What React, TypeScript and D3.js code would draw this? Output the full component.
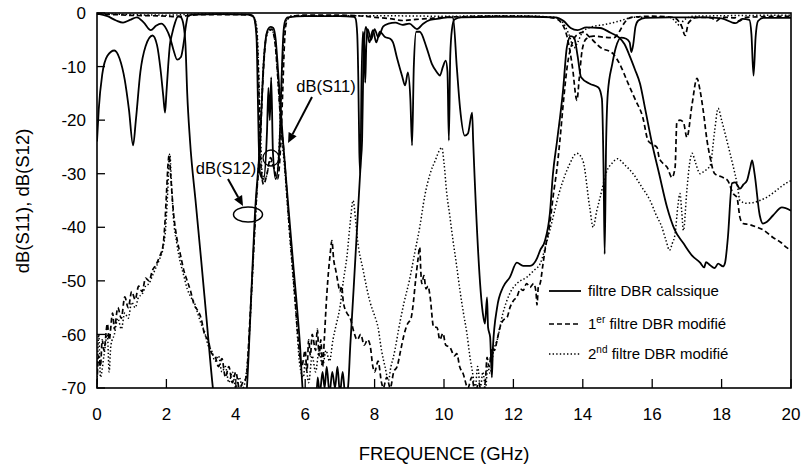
import React from 'react';
import * as d3 from 'd3';

type P = [number, number];

const xTicks = [0, 2, 4, 6, 8, 10, 12, 14, 16, 18, 20];
const yTicks = [0, -10, -20, -30, -40, -50, -60, -70];

const legendLabels = ['filtre DBR calssique', '1|er| filtre DBR modifié', '2|nd| filtre DBR modifié'];

// classic DBR filter, transmission
const s12Classic: P[] = [
  [0,-24],[0.05,-18],[0.15,-11.5],[0.3,-8],[0.5,-7],[0.65,-8.5],[0.8,-12.5],[0.92,-18],[1.04,-24.7],[1.12,-20],[1.25,-11],[1.4,-6.2],[1.6,-4.2],[1.73,-6],[1.83,-10.5],[1.91,-15.5],[1.96,-18.6],[2.0,-15],[2.05,-10],[2.1,-6],[2.16,-4],[2.25,-1.8],[2.34,-0.6],[2.42,-0.8],[2.5,-2.5],[2.55,-6],[2.6,-15],[2.68,-23.8],[2.85,-35.7],[3.0,-46],[3.15,-56.6],[3.34,-70],[3.5,-78],[4.2,-78],[4.32,-70],[4.45,-52],[4.55,-37.6],[4.7,-23.8],[4.78,-12],[4.85,-5.5],[4.93,-3],[5.0,-2.6],[5.08,-2.8],[5.15,-5],[5.22,-11],[5.3,-18.5],[5.36,-23.8],[5.5,-35],[5.65,-46.5],[5.85,-62],[5.95,-72],[6.1,-75],[6.3,-74],[6.36,-68],[6.42,-71],[6.5,-67],[6.56,-70],[6.62,-66],[6.7,-71],[6.78,-67],[6.86,-70],[6.93,-66],[7.0,-71],[7.08,-67],[7.15,-71],[7.23,-70],[7.3,-62],[7.4,-51],[7.5,-39.5],[7.6,-28],[7.64,-23.8],[7.67,-12],[7.7,-5],[7.75,-2.6],[7.85,-5.5],[7.95,-3.2],[8.05,-5.5],[8.15,-3.5],[8.3,-4.5],[8.45,-4.8],[8.53,-5.5],[8.65,-8.5],[8.79,-11.7],[8.88,-13.5],[8.96,-11.1],[9.03,-16],[9.08,-24.7],[9.13,-10],[9.2,-3.5],[9.3,-3.5],[9.5,-6.5],[9.65,-9.5],[9.8,-11.1],[9.88,-11.7],[9.97,-10],[10.05,-8.9],[10.1,-11],[10.14,-23.8],[10.18,-8],[10.23,-3],[10.3,-1.2],[10.5,-0.8],[11.5,-0.7],[12.5,-0.7],[13.2,-0.8],[13.45,-1.5],[13.65,-2.8],[13.85,-3.2],[14.1,-2.7],[14.5,-2.8],[14.8,-3.7],[15.05,-4.6],[15.2,-5.8],[15.35,-8],[15.5,-10.5],[15.65,-13.2],[15.8,-18],[16.0,-24.5],[16.2,-30],[16.43,-36.3],[16.65,-40.5],[16.9,-43],[17.15,-45.3],[17.38,-46.6],[17.5,-47.5],[17.55,-46.5],[17.67,-47.1],[17.8,-47.6],[17.9,-46.8],[18.04,-47.3],[18.1,-46.6],[18.18,-42],[18.3,-31.8],[18.39,-31.6],[18.53,-32.8],[18.63,-32],[18.73,-31.3],[18.82,-29],[18.88,-27.5],[18.95,-30],[19.1,-37.8],[19.19,-39.3],[19.3,-39],[19.48,-37.8],[19.74,-36.3],[20,-36.9]
];

// classic DBR filter, reflection
const s11Classic: P[] = [
  [0,-0.1],[0.3,-0.6],[0.55,-1.4],[0.75,-1.8],[0.95,-1.3],[1.15,-0.8],[1.35,-1.8],[1.55,-3.2],[1.7,-2.4],[1.85,-2],[2.0,-3],[2.1,-4.5],[2.2,-6.8],[2.31,-8.7],[2.42,-8.2],[2.5,-5.5],[2.56,-2.5],[2.62,-0.6],[2.75,-0.3],[3.5,-0.2],[4.4,-0.3],[4.5,-0.6],[4.55,-1.5],[4.6,-5],[4.63,-14],[4.66,-24],[4.7,-30],[4.8,-31],[4.9,-22],[4.94,-14],[4.98,-20],[5.02,-12],[5.07,-26],[5.15,-31],[5.25,-26],[5.32,-12],[5.37,-4],[5.42,-1.5],[5.5,-0.8],[6.0,-0.6],[7.0,-0.6],[7.4,-0.7],[7.45,-1],[7.5,-4],[7.53,-12],[7.56,-26],[7.59,-30],[7.62,-14],[7.66,-3.5],[7.7,-6],[7.73,-13],[7.76,-6],[7.8,-3],[7.9,-5],[8.0,-3],[8.1,-4.5],[8.25,-2.5],[8.4,-2],[8.6,-1.8],[8.8,-2.2],[9.0,-2],[9.22,-3],[9.4,-2],[9.6,-1.3],[9.9,-1],[10.1,-0.8],[10.26,-0.8],[10.37,-10.2],[10.46,-17.6],[10.6,-22.9],[10.69,-22.5],[10.81,-18.6],[10.84,-23.8],[11.12,-56.1],[11.18,-58],[11.24,-53.1],[11.27,-58.7],[11.33,-60.5],[11.38,-68],[11.41,-62.4],[11.53,-55],[11.7,-51.2],[11.9,-49.3],[12.1,-46.6],[12.28,-47.2],[12.48,-47.2],[12.68,-45.8],[12.77,-44.3],[12.91,-42.5],[13.05,-37.5],[13.14,-30],[13.26,-23.8],[13.43,-14.5],[13.54,-6.4],[13.65,-4.3],[13.75,-4.6],[13.85,-8],[13.95,-12],[14.2,-13.2],[14.45,-13.9],[14.55,-16],[14.6,-30],[14.63,-45],[14.67,-25],[14.72,-15],[14.85,-9.5],[14.95,-6.5],[15.1,-4.6],[15.25,-4.8],[15.35,-5.5],[15.4,-7.3],[15.45,-6],[15.52,-2.5],[15.6,-1.4],[15.8,-0.9],[16.5,-0.8],[17.5,-0.8],[18.0,-1],[18.4,-1.9],[18.6,-1.1],[18.8,-1.3],[18.86,-4],[18.92,-11.7],[18.98,-4.5],[19.05,-1.5],[19.2,-0.9],[20,-0.9]
];

// 1st modified DBR filter
const s11Mod1: P[] = [
  [0,-0.2],[0.5,-0.3],[1.0,-0.45],[1.5,-0.5],[2.0,-0.6],[2.3,-0.7],[2.6,-0.5],[3.0,-0.3],[4.0,-0.3],[4.4,-0.4],[4.5,-0.7],[4.56,-1.6],[4.61,-4.5],[4.65,-11],[4.69,-21],[4.73,-29],[4.8,-32],[4.9,-30],[5.0,-27],[5.1,-29],[5.2,-31],[5.29,-25],[5.35,-15],[5.4,-6],[5.45,-2],[5.55,-0.8],[6.0,-0.4],[7.0,-0.4],[7.5,-0.5],[8.0,-0.8],[8.5,-1.1],[8.8,-1.4],[9.2,-1.2],[9.6,-1.0],[10.0,-0.8],[10.5,-0.7],[11.0,-0.6],[12.0,-0.6],[12.8,-0.7],[13.2,-1.0],[13.4,-2],[13.55,-4.5],[13.7,-10],[13.83,-16.3],[13.9,-12],[13.98,-7],[14.1,-4.8],[14.3,-4.3],[14.6,-4.5],[14.9,-4.6],[15.05,-3.5],[15.2,-1.8],[15.4,-0.8],[16.0,-0.6],[16.6,-0.8],[16.85,-2.5],[16.95,-4.2],[17.05,-1.8],[17.3,-0.8],[17.7,-0.9],[17.85,-1.5],[18.0,-0.8],[18.4,-0.9],[18.5,-1.5],[18.7,-0.8],[20,-0.6]
];

const s12Mod1: P[] = [
  [0,-69],[0.05,-64],[0.1,-66],[0.15,-61],[0.2,-63],[0.3,-58],[0.35,-61],[0.45,-56],[0.5,-59],[0.6,-55],[0.7,-57],[0.8,-53],[0.9,-55],[1.0,-52],[1.1,-53.5],[1.2,-51],[1.3,-52],[1.4,-49.5],[1.5,-50],[1.6,-48],[1.7,-47],[1.8,-45.5],[1.9,-43.5],[1.95,-40],[2.0,-34],[2.05,-28],[2.08,-26.5],[2.12,-30],[2.2,-37],[2.3,-42],[2.4,-45],[2.5,-48],[2.6,-50],[2.7,-52],[2.8,-54.5],[2.9,-55.5],[3.0,-57],[3.1,-60],[3.2,-61],[3.3,-63.5],[3.4,-64],[3.5,-66],[3.6,-64.5],[3.7,-68],[3.8,-66],[3.9,-69],[4.0,-67],[4.1,-70],[4.2,-69],[4.3,-68],[4.4,-58],[4.5,-46],[4.6,-34],[4.7,-25],[4.77,-14],[4.84,-6.5],[4.93,-3.2],[5.03,-3],[5.12,-5],[5.2,-11],[5.28,-19],[5.38,-25.5],[5.52,-38],[5.67,-50],[5.8,-61],[5.9,-66],[6.0,-63],[6.05,-67],[6.1,-61],[6.15,-64],[6.2,-60],[6.3,-63],[6.35,-59],[6.4,-64],[6.45,-61],[6.5,-66],[6.55,-61],[6.6,-55],[6.65,-50],[6.72,-45],[6.77,-42.5],[6.82,-46],[6.88,-48],[6.95,-50.5],[7.0,-52],[7.05,-51],[7.1,-54],[7.2,-56],[7.3,-57],[7.4,-59.5],[7.5,-61],[7.6,-60],[7.7,-62],[7.8,-61],[7.87,-62],[7.95,-66],[8.0,-67],[8.1,-65],[8.2,-69],[8.25,-70],[8.35,-68],[8.45,-70],[8.55,-67],[8.65,-66],[8.75,-63],[8.85,-60],[8.95,-58],[9.05,-57],[9.1,-55],[9.18,-50],[9.25,-46],[9.3,-43.7],[9.33,-48],[9.36,-50.5],[9.42,-49],[9.48,-51.5],[9.54,-51],[9.6,-53],[9.7,-58.6],[9.8,-58.7],[9.88,-61],[9.97,-59.8],[10.05,-62],[10.17,-62.4],[10.3,-64],[10.37,-63.6],[10.45,-66],[10.55,-67.3],[10.69,-70],[10.8,-68],[10.9,-71],[11.0,-69],[11.1,-72],[11.2,-68],[11.24,-64.3],[11.3,-66],[11.38,-62.4],[11.45,-63],[11.53,-61.1],[11.6,-59],[11.7,-57.4],[11.82,-56.8],[11.9,-55],[12.0,-53.7],[12.1,-53],[12.2,-51.5],[12.28,-51.8],[12.38,-50.5],[12.48,-51.2],[12.58,-50.5],[12.65,-52],[12.68,-54.5],[12.72,-51],[12.77,-50.5],[12.85,-47],[12.91,-44.3],[13.05,-39.3],[13.15,-34],[13.26,-28.8],[13.34,-23.8],[13.45,-16],[13.55,-10],[13.7,-5.5],[13.85,-4],[14.0,-3.6],[14.2,-4.5],[14.35,-5.5],[14.5,-6.4],[14.87,-7.6],[15.1,-10],[15.27,-12.6],[15.5,-16],[15.73,-19.5],[15.88,-23.8],[16.0,-24.5],[16.14,-25.1],[16.2,-27],[16.3,-28],[16.43,-28.8],[16.57,-30.7],[16.66,-28.8],[16.71,-20.4],[16.8,-20],[16.9,-20.4],[17.0,-23.2],[17.15,-17],[17.29,-12.2],[17.38,-14.5],[17.47,-18.2],[17.58,-23.8],[17.67,-27],[17.8,-30],[18.04,-30.7],[18.18,-31.3],[18.33,-33.7],[18.44,-34.4],[18.53,-38.2],[18.62,-39.3],[18.8,-39.5],[19.02,-40],[19.2,-40.5],[19.48,-41.9],[19.7,-42.8],[19.88,-43.8],[20,-44.3]
];

// 2nd modified DBR filter
const s11Mod2: P[] = [
  [0,-0.1],[1.0,-0.3],[2.0,-0.4],[3.0,-0.2],[4.4,-0.3],[4.5,-0.6],[4.57,-1.5],[4.62,-4],[4.66,-11],[4.71,-22],[4.76,-30],[4.85,-31],[4.95,-28.5],[5.0,-27.5],[5.1,-29],[5.2,-29],[5.27,-22],[5.33,-12],[5.38,-5],[5.45,-1.5],[5.6,-0.5],[8.0,-0.5],[10.0,-0.6],[12.0,-0.5],[13.2,-0.8],[13.45,-2],[13.6,-4],[13.75,-6.5],[13.85,-5.5],[14.0,-3.5],[14.3,-2.5],[14.6,-2.2],[15.0,-1.6],[15.5,-0.8],[16.5,-0.8],[16.7,-1.8],[16.8,-2.4],[16.9,-1.4],[17.2,-0.6],[20,-0.4]
];

const s12Mod2: P[] = [
  [0,-70],[0.05,-60],[0.1,-68],[0.2,-64],[0.3,-60],[0.35,-67],[0.4,-62],[0.5,-60],[0.6,-57],[0.7,-59],[0.8,-56],[0.9,-57],[1.0,-54],[1.1,-55],[1.2,-53],[1.3,-52.5],[1.4,-51],[1.5,-50.5],[1.6,-49],[1.7,-47.5],[1.8,-46],[1.9,-44],[1.98,-40],[2.04,-33],[2.08,-27],[2.1,-26.3],[2.14,-31],[2.2,-38],[2.3,-43],[2.4,-46.5],[2.5,-49],[2.6,-51.5],[2.7,-53],[2.8,-54],[2.9,-56],[3.0,-58],[3.1,-59.5],[3.2,-62],[3.3,-63],[3.4,-65],[3.5,-64],[3.6,-67],[3.7,-66],[3.8,-69],[3.9,-67],[4.0,-70],[4.1,-68],[4.2,-70],[4.35,-64],[4.45,-53],[4.55,-40],[4.65,-29],[4.73,-19],[4.8,-9],[4.88,-4.5],[4.97,-3.2],[5.06,-3.4],[5.14,-6],[5.22,-13],[5.3,-21],[5.42,-30],[5.57,-43],[5.72,-55],[5.85,-66],[5.95,-68],[6.0,-65],[6.1,-69],[6.2,-64],[6.3,-67],[6.4,-63],[6.5,-66],[6.6,-63],[6.7,-65],[6.8,-61],[6.9,-58],[7.0,-55],[7.1,-50],[7.2,-45.6],[7.3,-39],[7.38,-35],[7.45,-38.5],[7.5,-41.9],[7.67,-48],[7.87,-54],[8.0,-56.5],[8.1,-58.7],[8.2,-63],[8.3,-66],[8.4,-68.6],[8.47,-66],[8.54,-64.3],[8.74,-57.4],[8.85,-54],[9.0,-50],[9.15,-45],[9.3,-40],[9.45,-34],[9.6,-30],[9.75,-27.5],[9.88,-25.5],[9.94,-25.1],[10.0,-28],[10.08,-33.7],[10.17,-38],[10.26,-42.5],[10.36,-47],[10.46,-51.8],[10.56,-56],[10.66,-59.8],[10.75,-64.3],[10.82,-67],[10.9,-70],[10.97,-66],[11.05,-70],[11.12,-67],[11.2,-70],[11.26,-66],[11.33,-67.3],[11.43,-63],[11.53,-61.1],[11.7,-56],[11.9,-52.3],[12.1,-50.5],[12.39,-49.3],[12.6,-48],[12.77,-46.8],[12.97,-42.5],[13.14,-38.2],[13.3,-34],[13.43,-31.3],[13.6,-28.5],[13.83,-26.2],[14.0,-27.5],[14.2,-36.3],[14.3,-40],[14.4,-37],[14.5,-34.4],[14.7,-29.4],[14.85,-28],[15.0,-27.2],[15.2,-28.3],[15.45,-30],[15.7,-32.5],[15.94,-35],[16.1,-37.5],[16.28,-40],[16.4,-42.5],[16.5,-44.3],[16.58,-43],[16.66,-41.2],[16.74,-36],[16.8,-33.7],[16.85,-37],[16.9,-40.6],[17.0,-33],[17.08,-28],[17.15,-26.2],[17.25,-28],[17.38,-30],[17.5,-29.5],[17.67,-28.5],[17.8,-22],[17.9,-17.8],[18.0,-20],[18.15,-23.8],[18.33,-28.5],[18.45,-32],[18.53,-35],[18.7,-35.5],[18.9,-35.4],[19.1,-35],[19.3,-34.4],[19.5,-33.5],[19.68,-32.6],[19.85,-31.8],[20,-31.3]
];

const W = 804, H = 468;
const M = { left: 97, right: 791, top: 13, bottom: 388 };
const FONT = '"Liberation Sans", Arial, Helvetica, sans-serif';

const styles = [
  { dash: undefined as string | undefined, width: 1.8 },
  { dash: '5,3', width: 1.7 },
  { dash: '1.4,2.2', width: 1.5 },
];

function Arrow({ x1, y1, x2, y2 }: { x1: number; y1: number; x2: number; y2: number }) {
  const dx = x2 - x1, dy = y2 - y1;
  const L = Math.hypot(dx, dy);
  const ux = dx / L, uy = dy / L;
  const hl = 10, hw = 4.5;
  const bx = x2 - ux * hl, by = y2 - uy * hl;
  const pts = `${x2},${y2} ${bx - uy * hw},${by + ux * hw} ${bx + uy * hw},${by - ux * hw}`;
  return (
    <g>
      <line x1={x1} y1={y1} x2={bx} y2={by} stroke="#000" strokeWidth={2} />
      <polygon points={pts} fill="#000" />
    </g>
  );
}

export default function App() {
  const x = d3.scaleLinear().domain([0, 20]).range([M.left, M.right]);
  const y = d3.scaleLinear().domain([-70, 0]).range([M.bottom, M.top]);
  const line = d3.line<P>().x(d => x(d[0])).y(d => y(d[1])).curve(d3.curveMonotoneX);

  const series: { data: P[]; s: number }[] = [
    { data: s12Mod2, s: 2 },
    { data: s11Mod2, s: 2 },
    { data: s12Mod1, s: 1 },
    { data: s11Mod1, s: 1 },
    { data: s12Classic, s: 0 },
    { data: s11Classic, s: 0 },
  ];

  const legendY = [291, 324, 354];

  return (
    <svg width={W} height={H} style={{ position: 'absolute', left: 0, top: 0, background: '#fff' }} fontFamily={FONT}>
      <defs>
        <clipPath id="plot">
          <rect x={M.left} y={M.top - 1.5} width={M.right - M.left} height={M.bottom - M.top + 1.5} />
        </clipPath>
      </defs>
      <rect width={W} height={H} fill="#fff" />

      <g clipPath="url(#plot)">
        {series.map((se, i) => (
          <path key={i} d={line(se.data) || ''} fill="none" stroke="#000"
            strokeWidth={styles[se.s].width} strokeDasharray={styles[se.s].dash}
            strokeLinejoin="round" />
        ))}
      </g>

      {/* frame */}
      <rect x={M.left} y={M.top} width={M.right - M.left} height={M.bottom - M.top} fill="none" stroke="#000" strokeWidth={1.6} />

      {/* ticks */}
      {xTicks.map(t => (
        <g key={'x' + t}>
          <line x1={x(t)} x2={x(t)} y1={M.bottom} y2={M.bottom - 9} stroke="#000" strokeWidth={1.3} />
          <text x={x(t)} y={420} textAnchor="middle" fontSize={17}>{t}</text>
        </g>
      ))}
      {yTicks.map(t => (
        <g key={'y' + t}>
          <line x1={M.left} x2={M.left + 8} y1={y(t)} y2={y(t)} stroke="#000" strokeWidth={1.3} />
          <text x={86} y={y(t)} dy="0.36em" textAnchor="end" fontSize={17}>{t}</text>
        </g>
      ))}

      <text x={444} y={460} textAnchor="middle" fontSize={18.5}>FREQUENCE (GHz)</text>
      <text transform="translate(29,201) rotate(-90)" textAnchor="middle" fontSize={18.5}>dB(S11), dB(S12)</text>

      {/* annotations */}
      <text x={326} y={92} textAnchor="middle" fontSize={16.5}>dB(S11)</text>
      <Arrow x1={312} y1={97} x2={288} y2={143} />
      <circle cx={271} cy={158} r={8} fill="none" stroke="#000" strokeWidth={1.3} />

      <text x={226} y={174} textAnchor="middle" fontSize={16.5}>dB(S12)</text>
      <Arrow x1={228} y1={179} x2={243} y2={206} />
      <ellipse cx={248} cy={214.5} rx={14.5} ry={7.5} fill="none" stroke="#000" strokeWidth={1.5} />

      {/* legend */}
      {legendLabels.map((lab, i) => {
        const parts = lab.split('|');
        return (
          <g key={'l' + i}>
            <line x1={549} x2={581} y1={legendY[i]} y2={legendY[i]} stroke="#000"
              strokeWidth={styles[i].width} strokeDasharray={styles[i].dash} />
            <text x={588} y={legendY[i] + 5} fontSize={15}>
              {parts.length === 1 ? lab : (
                <>
                  <tspan>{parts[0]}</tspan>
                  <tspan fontSize={10} dy={-6}>{parts[1]}</tspan>
                  <tspan dy={6}>{parts[2]}</tspan>
                </>
              )}
            </text>
          </g>
        );
      })}
    </svg>
  );
}
